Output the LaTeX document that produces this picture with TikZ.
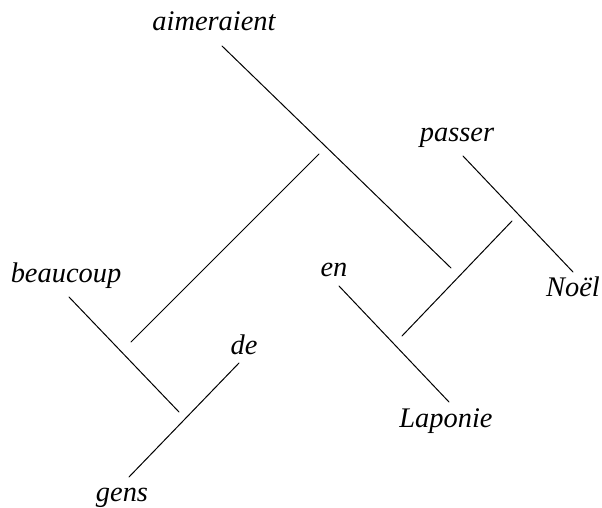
\documentclass[tikz,border=0pt]{standalone}
\usepackage{fontspec}
\setmainfont{Liberation Serif}
\usepackage{tikz}

\begin{document}
\begin{tikzpicture}[x=0.5pt, y=-0.5pt,
		word/.style={font=\itshape\fontsize{14.2}{17}\selectfont,
				anchor=base, inner sep=0pt},
		branch/.style={line width=0.5pt, line cap=round},
		]
		\useasboundingbox (0,0) rectangle (602,508);

		% ---- Mots ----
		\node[word] (aim)  at (214,31)  {aimeraient};
		\node[word] (pas)  at (457,142) {passer};
		\node[word] (beau) at (66,283)  {beaucoup};
		\node[word] (en)   at (334,277) {en};
		\node[word] (noel) at (573,297) {Noël};
		\node[word] (de)   at (244,355) {de};
		\node[word] (lap)  at (446,428) {Laponie};
		\node[word] (gens) at (122,502) {gens};

		% ---- Extrémités des branches ----
		\coordinate (aim-a)  at (222,46);  \coordinate (aim-b)  at (451,268);
		\coordinate (pas-a)  at (463,156); \coordinate (pas-b)  at (573,272);
		\coordinate (suj-a)  at (319,154); \coordinate (suj-b)  at (131,342);
		\coordinate (beau-a) at (69,297);  \coordinate (beau-b) at (179,412);
		\coordinate (de-a)   at (239,363); \coordinate (de-b)   at (129,477);
		\coordinate (en-a)   at (339,286); \coordinate (en-b)   at (449,402);
		\coordinate (obj-a)  at (512,221); \coordinate (obj-b)  at (402,336);

		% ---- Branches ----
		\draw[branch] (aim-a) -- (aim-b);
		\draw[branch] (pas-a) -- (pas-b);
		\draw[branch] (suj-a) -- (suj-b);
		\draw[branch] (beau-a) -- (beau-b);
		\draw[branch] (de-a) -- (de-b);
		\draw[branch] (en-a) -- (en-b);
		\draw[branch] (obj-a) -- (obj-b);

	\end{tikzpicture}
\end{document}
